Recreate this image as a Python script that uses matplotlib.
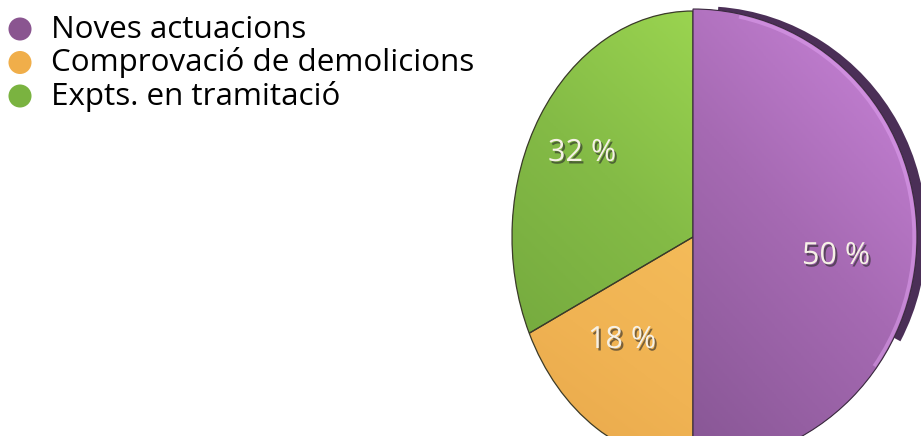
import numpy as np
import matplotlib
matplotlib.use('Agg')
import matplotlib.pyplot as plt
import matplotlib.patheffects as pe
from matplotlib.patches import Wedge, Arc
from matplotlib.colors import LinearSegmentedColormap

# Data
categories = ['Noves actuacions', 'Comprovació de demolicions', 'Expts. en tramitació']
shares = [50, 18, 32]
labels = ['50 %', '18 %', '32 %']

legend_colors = ['#8a5590', '#f0ae4a', '#7ab340']
face_ramps = [('#875694', '#a66ab3', '#cc86dc'),
              ('#e8a84b', '#f0b353', '#f4bb59'),
              ('#76ab3f', '#84bb46', '#9ad450')]

W, H = 921, 436
fig = plt.figure(figsize=(W / 100, H / 100), dpi=100)

# pie vertex in pixels
cx, cy = 693, 237
frac = [s / sum(shares) for s in shares]


def pie_axes():
    a = fig.add_axes([0, 0, 1, 1])
    a.set_axis_off()
    return a


def fit(a, rx, ry):
    a.set_aspect('auto')
    a.set_xlim(-cx / rx, (W - cx) / rx)
    a.set_ylim(-(H - cy) / ry, cy / ry)


def shade(a, wedge, ramp):
    cmap = LinearSegmentedColormap.from_list('r', ramp)
    g = np.linspace(0, 1, 200)
    img = g[None, :] * 0.35 + g[::-1, None] * 0.65
    bb = wedge.get_path().get_extents()
    im = a.imshow(img, cmap=cmap, extent=[bb.x0, bb.x1, bb.y0, bb.y1],
                  origin='upper', aspect='auto', zorder=wedge.get_zorder() + 0.1)
    im.set_clip_path(wedge)


def start_of(i):
    return 90 - 360 * sum(frac[:i])


# small slices: narrower ellipse
ax2 = pie_axes()
for i in (1, 2):
    w, _ = ax2.pie([frac[i]], normalize=False, startangle=start_of(i),
                   counterclock=False, colors=[legend_colors[i]],
                   wedgeprops=dict(edgecolor='none', zorder=2))
    fit(ax2, 181, 226)
    shade(ax2, w[0], face_ramps[i])
    ax2.pie([frac[i]], normalize=False, startangle=start_of(i),
            counterclock=False, colors=['none'],
            wedgeprops=dict(edgecolor='#3b3b2a', linewidth=0.9, zorder=5))
fit(ax2, 181, 226)

# big slice: nearly circular, with dark side rim
ax1 = pie_axes()
ax1.add_patch(Wedge((0.043, 0.012), 1.0, -28, 86, facecolor='#4b2f57',
                    edgecolor='none', zorder=1))
w1, _ = ax1.pie([frac[0]], normalize=False, startangle=90, counterclock=False,
                colors=[legend_colors[0]],
                wedgeprops=dict(edgecolor='none', zorder=2))
fit(ax1, 224, 228)
shade(ax1, w1[0], face_ramps[0])
ax1.add_patch(Arc((0, 0), 1.975, 1.975, theta1=-35, theta2=78, color='#e2a2f2',
                  linewidth=2.6, alpha=0.5, zorder=4))
ax1.pie([frac[0]], normalize=False, startangle=90, counterclock=False,
        colors=['none'],
        wedgeprops=dict(edgecolor='#3a2a3e', linewidth=0.8, zorder=5))
fit(ax1, 224, 228)

# overlay in pixel coordinates for texts
ax = fig.add_axes([0, 0, 1, 1])
ax.set_xlim(0, W)
ax.set_ylim(H, 0)
ax.set_axis_off()
ax.patch.set_alpha(0)

shadow = [pe.withSimplePatchShadow(offset=(1.5, -1.8), shadow_rgbFace='#2a2a2a', alpha=0.6)]
label_pos = [(836, 256), (622, 340), (582, 153)]
for (x, y), t in zip(label_pos, labels):
    ax.text(x, y, t, color='#f6f1e6', fontsize=22, fontfamily='Open Sans',
            ha='center', va='center', path_effects=shadow)

for i, (name, col) in enumerate(zip(categories, legend_colors)):
    y = 38 + 33.5 * i
    ax.scatter([20], [y - 9], s=275, color=col, edgecolors='none')
    ax.text(51, y, name, fontsize=22.6, fontfamily='Open Sans', color='black',
            va='baseline', ha='left')

fig.savefig('out.png', dpi=100)
